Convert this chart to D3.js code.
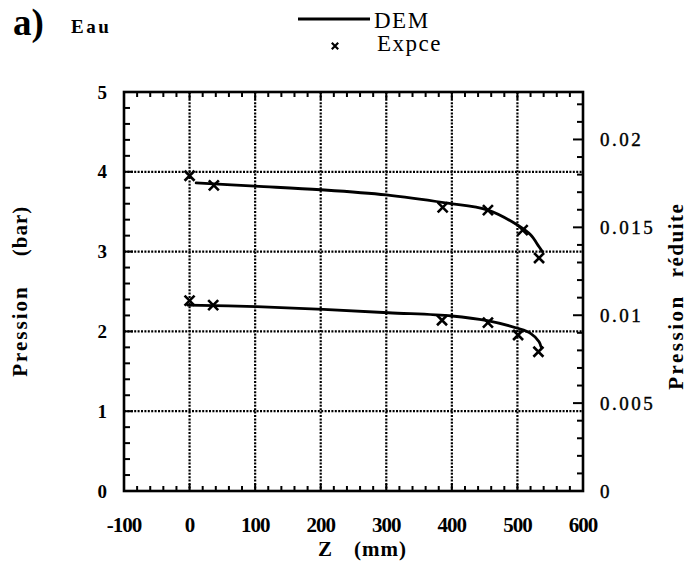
<!DOCTYPE html>
<html><head><meta charset="utf-8">
<script src="https://cdn.jsdelivr.net/npm/d3@7"></script>
<style>html,body{margin:0;padding:0;background:#fff}</style>
</head><body>
<script>
// ---- data ----
const upperDemZ = [10, 100, 200, 300, 390, 455, 500, 520, 533, 538];
const upperDemP = [3.86, 3.82, 3.775, 3.71, 3.61, 3.52, 3.333, 3.21, 3.06, 3.0];
const lowerDemZ = [-3, 102, 204, 303, 400, 454, 500, 520, 533, 536];
const lowerDemP = [2.33, 2.31, 2.277, 2.234, 2.193, 2.134, 2.039, 1.976, 1.871, 1.808];
const upperExpZ = [0, 37, 386, 455, 508, 533];
const upperExpP = [3.95, 3.83, 3.555, 3.52, 3.27, 2.92];
const lowerExpZ = [0, 36, 385, 455, 501, 532];
const lowerExpP = [2.385, 2.33, 2.14, 2.11, 1.955, 1.745];
const xTicks = [-100, 0, 100, 200, 300, 400, 500, 600];
const yTicks = [0, 1, 2, 3, 4, 5];
const rTicks = [0, 0.005, 0.01, 0.015, 0.02];
const rTickLabels = ["0", "0.005", "0.01", "0.015", "0.02"];

const W = 691, H = 566;
const svg = d3.select("body").append("svg").attr("width", W).attr("height", H);
const serif = "'Liberation Serif','Times New Roman',serif";

const x = d3.scaleLinear().domain([-100, 600]).range([124, 583]);
const y = d3.scaleLinear().domain([0, 5]).range([491, 92]);
const yr = d3.scaleLinear().domain([0, 0.0227]).range([491, 92]);

// grid (dotted)
const grid = svg.append("g").attr("stroke", "#000").attr("stroke-width", 2.2).attr("stroke-dasharray", "2,1.4");
[0, 100, 200, 300, 400, 500].forEach(v => grid.append("line").attr("x1", x(v)).attr("x2", x(v)).attr("y1", y(5)).attr("y2", y(0)));
[1, 2, 3, 4].forEach(v => grid.append("line").attr("x1", x(-100)).attr("x2", x(600)).attr("y1", y(v)).attr("y2", y(v)));

// minor ticks (inward)
const tk = svg.append("g").attr("stroke", "#000").attr("stroke-width", 2);
d3.range(-100, 601, 20).forEach(v => {
  const L = (v % 100 === 0) ? 7 : 5;
  tk.append("line").attr("x1", x(v)).attr("x2", x(v)).attr("y1", y(0)).attr("y2", y(0) - L);
  tk.append("line").attr("x1", x(v)).attr("x2", x(v)).attr("y1", y(5)).attr("y2", y(5) + L);
});
d3.range(0, 5.01, 0.2).forEach(v => {
  const L = (Math.abs(v - Math.round(v)) < 1e-6) ? 9 : 6;
  tk.append("line").attr("x1", x(-100)).attr("x2", x(-100) + L).attr("y1", y(v)).attr("y2", y(v));
});
d3.range(0, 0.0226, 0.001).forEach(v => {
  const major = Math.abs(v / 0.005 - Math.round(v / 0.005)) < 1e-6;
  const L = major ? 10 : 6;
  tk.append("line").attr("x1", x(600)).attr("x2", x(600) - L).attr("y1", yr(v)).attr("y2", yr(v));
});

// frame
svg.append("rect").attr("x", x(-100)).attr("y", y(5)).attr("width", x(600) - x(-100)).attr("height", y(0) - y(5))
  .attr("fill", "none").attr("stroke", "#000").attr("stroke-width", 2.6);

// tick labels
svg.append("g").selectAll("text").data(xTicks).join("text")
  .attr("x", d => x(d)).attr("y", 532).attr("text-anchor", "middle")
  .attr("font-family", serif).attr("font-weight", "bold").attr("font-size", 21).attr("fill", "#000").attr("letter-spacing", -1)
  .text(d => d);
svg.append("g").selectAll("text").data(yTicks).join("text")
  .attr("x", 107).attr("y", d => y(d)).attr("dy", "0.35em").attr("text-anchor", "end")
  .attr("font-family", serif).attr("font-weight", "bold").attr("font-size", 19).attr("fill", "#000")
  .text(d => d);
svg.append("g").selectAll("text").data(rTicks).join("text")
  .attr("x", 600).attr("y", d => yr(d)).attr("dy", "0.35em").attr("text-anchor", "start")
  .attr("font-family", serif).attr("font-size", 19).attr("fill", "#000").attr("letter-spacing", 2.5)
  .attr("stroke", "#000").attr("stroke-width", 0.4)
  .text((d, i) => rTickLabels[i]);

// axis titles
svg.append("text").attr("transform", "translate(27,331) rotate(-90)").attr("text-anchor", "middle")
  .attr("font-family", serif).attr("font-weight", "bold").attr("font-size", 21).attr("letter-spacing", 2).attr("fill", "#000").text("Pression");
svg.append("text").attr("transform", "translate(27,231) rotate(-90)").attr("text-anchor", "middle")
  .attr("font-family", serif).attr("font-weight", "bold").attr("font-size", 21).attr("letter-spacing", 1).attr("fill", "#000").text("(bar)");
svg.append("text").attr("transform", "translate(683,342) rotate(-90)").attr("text-anchor", "middle")
  .attr("font-family", serif).attr("font-weight", "bold").attr("font-size", 21).attr("letter-spacing", 2.5).attr("fill", "#000").text("Pression");
svg.append("text").attr("transform", "translate(683,240) rotate(-90)").attr("text-anchor", "middle")
  .attr("font-family", serif).attr("font-weight", "bold").attr("font-size", 21).attr("letter-spacing", 1.5).attr("fill", "#000").text("réduite");
svg.append("text").attr("x", 318).attr("y", 556).attr("font-family", serif).attr("font-weight", "bold")
  .attr("font-size", 21).attr("fill", "#000").text("Z");
svg.append("text").attr("x", 354).attr("y", 556).attr("font-family", serif).attr("font-weight", "bold")
  .attr("font-size", 21).attr("letter-spacing", 1).attr("fill", "#000").text("(mm)");

// panel labels
svg.append("text").attr("x", 13).attr("y", 35).attr("font-family", serif).attr("font-weight", "bold")
  .attr("font-size", 37).attr("fill", "#000").text("a)");
svg.append("text").attr("x", 71).attr("y", 33).attr("font-family", serif).attr("font-weight", "bold")
  .attr("font-size", 19).attr("letter-spacing", 2.5).attr("fill", "#000").text("Eau");

// curves
const line = d3.line().x(d => x(d[0])).y(d => y(d[1])).curve(d3.curveCatmullRom.alpha(0.5));
[[upperDemZ, upperDemP], [lowerDemZ, lowerDemP]].forEach(([zs, ps]) => {
  svg.append("path").datum(zs.map((z, i) => [z, ps[i]])).attr("d", line)
    .attr("fill", "none").attr("stroke", "#000").attr("stroke-width", 2.8).attr("stroke-linecap", "round");
});

// crosses
function cross(g, cx, cy, s, w) {
  g.append("path").attr("d", `M${cx - s},${cy - s}L${cx + s},${cy + s}M${cx - s},${cy + s}L${cx + s},${cy - s}`)
    .attr("stroke", "#000").attr("stroke-width", w).attr("fill", "none");
}
const mk = svg.append("g");
[[upperExpZ, upperExpP], [lowerExpZ, lowerExpP]].forEach(([zs, ps]) => {
  zs.forEach((z, i) => cross(mk, x(z), y(ps[i]), 5, 2.6));
});

// legend
svg.append("line").attr("x1", 298).attr("x2", 370).attr("y1", 19).attr("y2", 19).attr("stroke", "#000").attr("stroke-width", 3);
svg.append("text").attr("x", 374).attr("y", 28).attr("font-family", serif).attr("font-size", 23)
  .attr("letter-spacing", 1.5).attr("fill", "#000").text("DEM");
cross(svg, 335, 46, 3.2, 2.2);
svg.append("text").attr("x", 377).attr("y", 51).attr("font-family", serif).attr("font-size", 23)
  .attr("letter-spacing", 1.5).attr("fill", "#000").text("Expce");
</script>
</body></html>
